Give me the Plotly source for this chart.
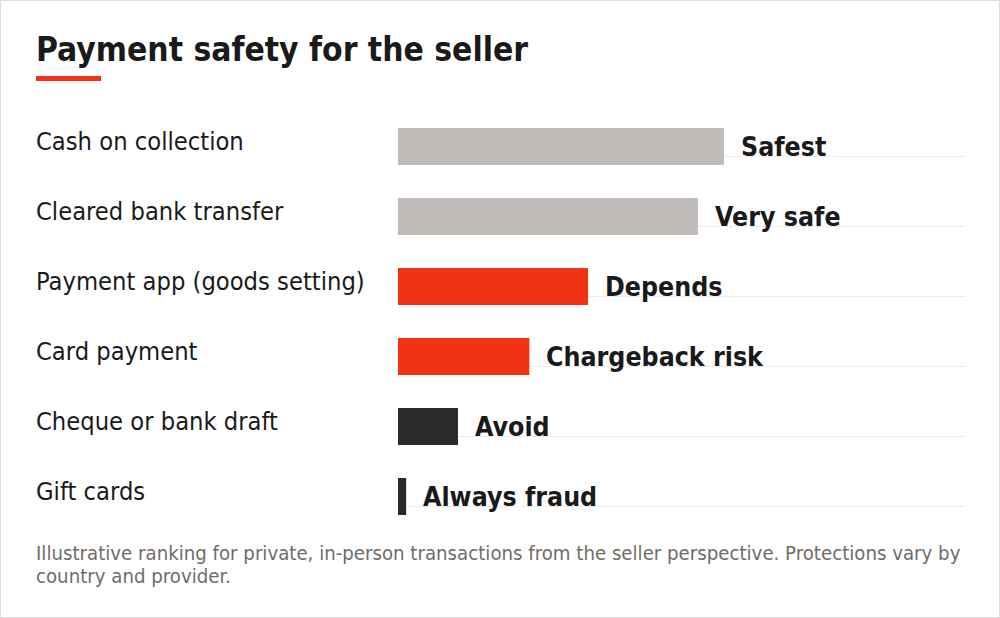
import plotly.graph_objects as go

categories = ["Cash on collection", "Cleared bank transfer", "Payment app (goods setting)", "Card payment", "Cheque or bank draft", "Gift cards"]
values = [100, 92, 58.3, 40.3, 18.4, 2.5]
labels = ["Safest", "Very safe", "Depends", "Chargeback risk", "Avoid", "Always fraud"]
colors = ["#c1bcb9", "#c1bcb9", "#f13214", "#f13214", "#2b2a28", "#2b2a28"]
title = "Payment safety for the seller"
note_lines = ["Illustrative ranking for private, in-person transactions from the seller perspective. Protections vary by", "country and provider."]
FONT = "DejaVu Sans Condensed"
W, H = 1000, 618
X0, X1 = 398, 965
Y0, Y1 = 100, 540
ROW = 70
FIRST = 146.5
SCALE = 3.26
rows = list(range(len(categories)))

fig = go.Figure()
fig.add_trace(go.Bar(
    x=values, y=rows, orientation="h", width=37 / ROW,
    marker=dict(color=colors, line=dict(width=0)),
    hoverinfo="skip",
))
shapes = [
    dict(type="rect", xref="paper", yref="paper", x0=0.0005, x1=0.9995, y0=0.0008, y1=0.9992, line=dict(color="#dfdcd9", width=1), fillcolor="rgba(0,0,0,0)", layer="below"),
    dict(type="rect", xref="paper", yref="paper", x0=36 / W, x1=101 / W, y0=1 - 81 / H, y1=1 - 76 / H, line=dict(width=0), fillcolor="#f13214"),
]
for r in rows:
    shapes.append(dict(type="line", xref="paper", yref="y", x0=X0 / W, x1=X1 / W, y0=r + 10 / ROW, y1=r + 10 / ROW, line=dict(color="#eeecea", width=1), layer="below"))
annotations = [
    dict(text=title, xref="paper", yref="paper", x=34 / W, y=1 - 49 / H, xanchor="left", yanchor="middle", showarrow=False,
         font=dict(family=FONT, size=33.3, color="#1a1a1a", weight="bold")),
]
for line, ly in zip(note_lines, [553, 576]):
    annotations.append(dict(text=line, xref="paper", yref="paper", x=34 / W, y=1 - ly / H, xanchor="left", yanchor="middle", align="left", showarrow=False,
                            font=dict(family=FONT, size=20.22, color="#6f6d6a")))
for r, c, v, l in zip(rows, categories, values, labels):
    annotations.append(dict(text=c, xref="paper", yref="y", x=34 / W, y=r, yshift=5, xanchor="left", yanchor="middle", showarrow=False,
                            font=dict(family=FONT, size=25.25, color="#1a1a1a")))
    annotations.append(dict(text=l, xref="x", yref="y", x=v, y=r, xshift=15, yshift=0, xanchor="left", yanchor="middle", showarrow=False,
                            font=dict(family=FONT, size=26.5, color="#1a1a1a", weight="bold")))
fig.update_layout(
    width=W, height=H, autosize=False,
    margin=dict(l=0, r=0, t=0, b=0),
    paper_bgcolor="white", plot_bgcolor="white", showlegend=False,
    xaxis=dict(domain=[X0 / W, X1 / W], range=[0, (X1 - X0) / SCALE], visible=False, fixedrange=True),
    yaxis=dict(domain=[1 - Y1 / H, 1 - Y0 / H], range=[(Y1 - FIRST) / ROW, (Y0 - FIRST) / ROW], visible=False, fixedrange=True),
    annotations=annotations, shapes=shapes,
)
fig.write_html("out.html", config=dict(displayModeBar=False), post_script="document.body.style.margin='0';document.body.style.overflow='hidden';")
